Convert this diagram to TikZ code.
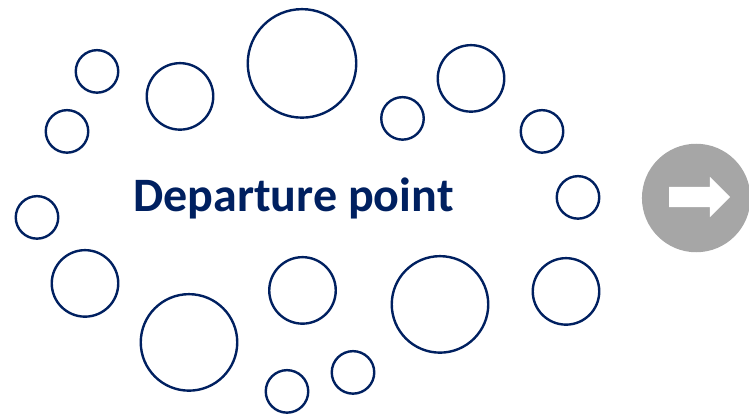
\documentclass[tikz,border=0pt]{standalone}
\usepackage{fontspec}
\setmainfont{Carlito}
\usetikzlibrary{shapes.arrows}
\definecolor{navyline}{HTML}{002060}
\definecolor{nextgray}{HTML}{A6A6A6}
\begin{document}
\begin{tikzpicture}[
    x=1pt, y=-1pt,
    bubble/.style={circle, draw=navyline, line width=2.4pt, inner sep=0pt, outer sep=0pt, yshift=-0.4pt},
    small/.style={bubble, minimum size=42.5pt},
    medium/.style={bubble, minimum size=66.5pt},
    large/.style={bubble, minimum size=96.5pt},
    huge/.style={bubble, minimum size=108.5pt}
]
    \useasboundingbox (0,0) rectangle (749,414);

    \node[small] (b1) at (97,71) {};
    \node[medium] (b2) at (180,96) {};
    \node[huge] (b3) at (302,63) {};
    \node[small] (b4) at (402.5,118) {};
    \node[medium] (b5) at (471,78) {};
    \node[small] (b6) at (542,131) {};
    \node[small] (b7) at (578,197) {};
    \node[small] (b8) at (67,131) {};
    \node[small] (b9) at (37,217) {};
    \node[medium] (b10) at (85,283) {};
    \node[large] (b11) at (189,342) {};
    \node[medium] (b12) at (302.5,290) {};
    \node[large] (b13) at (440,304) {};
    \node[medium] (b14) at (566,291) {};
    \node[small] (b15) at (353,372) {};
    \node[small] (b16) at (287,391) {};

    \node[font=\fontsize{48}{56}\selectfont\bfseries, text=navyline] (title) at (293.5,198.5) {Departure point};

    \node[circle, fill=nextgray, minimum size=108.5pt, inner sep=0pt] (next) at (696.2,198) {};
    \node[single arrow, fill=white, minimum height=61pt, inner xsep=0pt, inner ysep=10pt, single arrow head extend=10pt, single arrow head indent=0pt] (arrow) at (694.5,197) {};
\end{tikzpicture}
\end{document}
